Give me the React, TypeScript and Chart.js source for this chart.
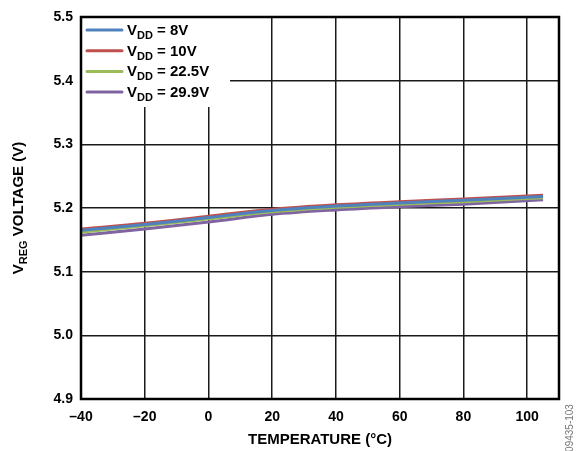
import React, { useEffect, useRef } from "react";
import { Chart, registerables } from "chart.js";

Chart.register(...registerables);

const temperatures = [-40, -20, 0, 20, 40, 60, 80, 105];
const vdd8 = [5.165, 5.174, 5.185, 5.196, 5.203, 5.208, 5.212, 5.218];
const vdd10 = [5.167, 5.176, 5.187, 5.198, 5.205, 5.21, 5.214, 5.22];
const vdd225 = [5.162, 5.172, 5.183, 5.194, 5.201, 5.206, 5.21, 5.216];
const vdd299 = [5.157, 5.167, 5.178, 5.19, 5.197, 5.202, 5.206, 5.213];
const seriesLabels = ["8V", "10V", "22.5V", "29.9V"];
const seriesColors = ["#4F81BD", "#C0504D", "#9BBB59", "#8064A2"];

const FONT = "'Liberation Sans', Arial, sans-serif";

const overlayPlugin = {
  id: "overlay",
  beforeDatasetsDraw(chart: any) {
    const { ctx, chartArea } = chart;
    ctx.save();
    ctx.fillStyle = "#ffffff";
    ctx.fillRect(chartArea.left + 1, chartArea.top + 1, 148, 89);
    ctx.restore();
  },
  afterDatasetsDraw(chart: any) {
    const { ctx, chartArea } = chart;
    ctx.save();
    ctx.strokeStyle = "#000";
    ctx.lineWidth = 2.5;
    ctx.strokeRect(chartArea.left, chartArea.top, chartArea.right - chartArea.left, chartArea.bottom - chartArea.top);

    const sets = chart.data.datasets;
    sets.forEach((ds: any, i: number) => {
      const y = chartArea.top + 13 + i * 20.7;
      ctx.strokeStyle = ds.borderColor;
      ctx.lineWidth = 3;
      ctx.lineCap = "round";
      ctx.beginPath();
      ctx.moveTo(chartArea.left + 6, y);
      ctx.lineTo(chartArea.left + 41, y);
      ctx.stroke();
      ctx.fillStyle = "#000";
      ctx.textBaseline = "alphabetic";
      ctx.textAlign = "left";
      let x = chartArea.left + 46;
      ctx.font = `bold 15px ${FONT}`;
      ctx.fillText("V", x, y + 5);
      x += ctx.measureText("V").width;
      ctx.font = `bold 11px ${FONT}`;
      ctx.fillText("DD", x, y + 9);
      x += ctx.measureText("DD").width;
      ctx.font = `bold 15px ${FONT}`;
      ctx.fillText(" = " + seriesLabels[i], x, y + 5);
    });

    ctx.fillStyle = "#000";
    ctx.font = `bold 15px ${FONT}`;
    ctx.textAlign = "center";
    ctx.textBaseline = "middle";
    ctx.fillText("TEMPERATURE (°C)", (chartArea.left + chartArea.right) / 2, 440);

    ctx.save();
    ctx.translate(18, (chartArea.top + chartArea.bottom) / 2);
    ctx.rotate(-Math.PI / 2);
    ctx.textAlign = "left";
    ctx.textBaseline = "alphabetic";
    const partA = "V";
    const partB = "REG";
    const partC = " VOLTAGE (V)";
    ctx.font = `bold 15px ${FONT}`;
    const wA = ctx.measureText(partA).width;
    const wC = ctx.measureText(partC).width;
    ctx.font = `bold 11px ${FONT}`;
    const wB = ctx.measureText(partB).width;
    let x = -(wA + wB + wC) / 2;
    ctx.font = `bold 15px ${FONT}`;
    ctx.fillText(partA, x, 5);
    x += wA;
    ctx.font = `bold 11px ${FONT}`;
    ctx.fillText(partB, x, 9);
    x += wB;
    ctx.font = `bold 15px ${FONT}`;
    ctx.fillText(partC, x, 5);
    ctx.restore();

    ctx.save();
    ctx.translate(570, 428);
    ctx.rotate(-Math.PI / 2);
    ctx.fillStyle = "#777";
    ctx.font = `10px ${FONT}`;
    ctx.textAlign = "center";
    ctx.textBaseline = "middle";
    ctx.fillText("09435-103", 0, 0);
    ctx.restore();

    ctx.restore();
  },
};

export default function App() {
  const ref = useRef<HTMLCanvasElement | null>(null);
  useEffect(() => {
    if (!ref.current) return;
    const allSeries = [vdd8, vdd10, vdd225, vdd299];
    const chart = new Chart(ref.current, {
      type: "line",
      data: {
        datasets: allSeries.map((vals, i) => ({
          label: "VDD = " + seriesLabels[i],
          data: temperatures.map((t, j) => ({ x: t, y: vals[j] })),
          borderColor: seriesColors[i],
          backgroundColor: seriesColors[i],
          borderWidth: 3,
          pointRadius: 0,
          tension: 0.4,
          cubicInterpolationMode: "monotone",
          fill: false,
        })),
      },
      options: {
        animation: false,
        responsive: false,
        maintainAspectRatio: false,
        devicePixelRatio: 1,
        layout: { padding: { left: 0, right: 17, top: 17, bottom: 0 } },
        plugins: {
          legend: { display: false },
          tooltip: { enabled: false },
          title: { display: false },
        },
        scales: {
          x: {
            type: "linear",
            min: -40,
            max: 110,
            ticks: {
              stepSize: 20,
              includeBounds: false,
              color: "#000",
              padding: 10,
              font: { family: FONT, size: 14, weight: "bold" },
              maxRotation: 0,
              callback: (v: any) => String(v).replace("-", "\u2013"),
            },
            grid: { color: "#1a1a1a", lineWidth: 1.5, drawTicks: false },
            border: { display: false },
            afterFit: (s: any) => {
              s.height = 52;
            },
          },
          y: {
            type: "linear",
            min: 4.9,
            max: 5.5,
            ticks: {
              stepSize: 0.1,
              color: "#000",
              padding: 8,
              font: { family: FONT, size: 14, weight: "bold" },
              callback: (v: any) => Number(v).toFixed(1),
            },
            grid: { color: "#1a1a1a", lineWidth: 1.5, drawTicks: false },
            border: { display: false },
            afterFit: (s: any) => {
              s.width = 81;
            },
          },
        },
      },
      plugins: [overlayPlugin],
    } as any);
    return () => chart.destroy();
  }, []);
  return (
    <div style={{ position: "absolute", left: 0, top: 0, width: 576, height: 451, background: "#fff" }}>
      <canvas ref={ref} width={576} height={451} style={{ width: 576, height: 451, display: "block" }} />
    </div>
  );
}
